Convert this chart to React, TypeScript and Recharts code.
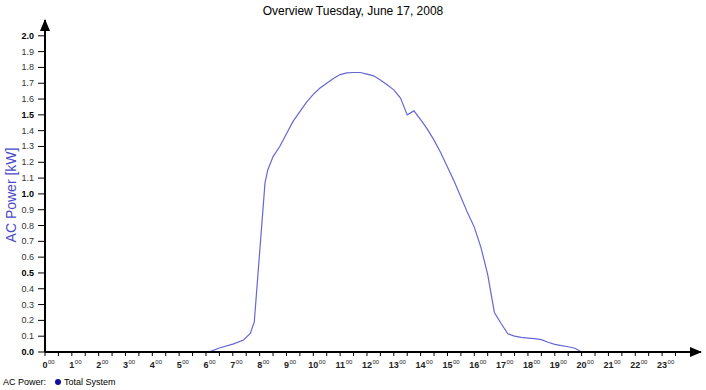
import { LineChart, Line, XAxis, YAxis, ReferenceDot } from 'recharts'

// hour of day, AC power in kW
const hours = [
    6.0, 6.2, 6.5, 7.0, 7.4, 7.65, 7.8, 8.2, 8.3, 8.5, 8.75, 9.0, 9.25, 9.5, 9.75,
    10.0, 10.25, 10.5, 10.75, 11.0, 11.25, 11.5, 11.75, 12.0, 12.25, 12.5, 12.75,
    13.0, 13.25, 13.5, 13.75, 14.0, 14.25, 14.5, 14.75, 15.0, 15.25, 15.5, 15.75,
    16.0, 16.25, 16.5, 16.75, 17.0, 17.25, 17.5, 17.75, 18.0, 18.25, 18.5, 18.75,
    19.0, 19.25, 19.5, 19.75, 20.0,
]
const power = [
    0, 0.006, 0.025, 0.05, 0.076, 0.118, 0.19, 1.07, 1.15, 1.236, 1.3, 1.38, 1.46, 1.52, 1.58,
    1.63, 1.67, 1.7, 1.73, 1.755, 1.765, 1.768, 1.768, 1.758, 1.747, 1.72, 1.69,
    1.658, 1.606, 1.5, 1.525, 1.47, 1.41, 1.34, 1.26, 1.17, 1.08, 0.98, 0.88,
    0.79, 0.66, 0.49, 0.25, 0.18, 0.115, 0.1, 0.092, 0.088, 0.084, 0.078, 0.062,
    0.048, 0.04, 0.033, 0.024, 0,
]
const xTicks = Array.from({ length: 48 }, (_, i) => i / 2)
const yTicks = Array.from({ length: 21 }, (_, i) => i / 10)

const data = hours.map((h, i) => ({ h, kw: power[i] }))

const FONT = '"Liberation Sans", Arial, sans-serif'

function XTick({ x, y, payload }: any) {
    const v = payload.value
    if (!Number.isInteger(v)) return null
    const digits = String(v)
    const w = digits.length * 5
    return (
        <g>
            <text x={x} y={y + 10} textAnchor="middle" fontSize={9} fontWeight="bold" fontFamily={FONT} fill="#222">
                {digits}
            </text>
            <text x={x + w / 2 + 0.5} y={y + 6} textAnchor="start" fontSize={6} fontFamily={FONT} fill="#222">
                00
            </text>
        </g>
    )
}

function YTick({ x, y, payload }: any) {
    const v = payload.value
    const major = Math.abs(v * 2 - Math.round(v * 2)) < 1e-6
    return (
        <text x={x - 2} y={y + 3} textAnchor="end" fontSize={9} fontFamily={FONT}
            fontWeight={major ? 'bold' : 'normal'} fill={major ? '#000' : '#333'}>
            {v.toFixed(1)}
        </text>
    )
}

function ArrowRight({ cx, cy }: any) {
    return <polygon points={`${cx + 1},${cy} ${cx - 11},${cy - 5} ${cx - 11},${cy + 5}`} fill="#000" />
}

function ArrowUp({ cx, cy }: any) {
    return <polygon points={`${cx},${cy - 1} ${cx - 5},${cy + 11} ${cx + 5},${cy + 11}`} fill="#000" />
}

function YLabel() {
    return (
        <text x={16} y={195} transform="rotate(-90, 16, 195)" textAnchor="middle" fontSize={14}
            fontFamily={FONT} fill="#4a4ac8">
            AC Power [kW]
        </text>
    )
}

export default function App() {
    return (
        <div style={{ position: 'absolute', left: 0, top: 0, width: 706, height: 390, background: '#fff', fontFamily: FONT }}>
            <div style={{ position: 'absolute', left: 0, top: 4, width: 706, textAlign: 'center', fontSize: 12, color: '#000' }}>
                Overview Tuesday, June 17, 2008
            </div>
            <LineChart width={706} height={390} data={data} margin={{ top: 20, right: 5, bottom: 0, left: 0 }}>
                <XAxis dataKey="h" type="number" domain={[0, 24.45]} ticks={xTicks} interval={0} height={38}
                    tick={<XTick />} tickSize={4} axisLine={{ stroke: '#000', strokeWidth: 2 }}
                    tickLine={{ stroke: '#000' }} />
                <YAxis type="number" domain={[0, 2.1]} ticks={yTicks} interval={0} width={45}
                    tick={<YTick />} tickSize={7} axisLine={{ stroke: '#000', strokeWidth: 2 }}
                    tickLine={{ stroke: '#000' }} label={<YLabel />} />
                <Line type="linear" dataKey="kw" stroke="#6767d4" strokeWidth={1.2} dot={false}
                    isAnimationActive={false} />
                <ReferenceDot x={24.45} y={0} shape={<ArrowRight />} ifOverflow="visible" />
                <ReferenceDot x={0} y={2.1} shape={<ArrowUp />} ifOverflow="visible" />
            </LineChart>
            <div style={{ position: 'absolute', left: 3, top: 377, fontSize: 9, color: '#000', display: 'flex', alignItems: 'center', whiteSpace: 'nowrap' }}>
                <span>AC Power:</span>
                <span style={{ display: 'inline-block', width: 6, height: 6, borderRadius: 3, background: '#1010a0', marginLeft: 9, marginRight: 3 }} />
                <span>Total System</span>
            </div>
        </div>
    )
}
